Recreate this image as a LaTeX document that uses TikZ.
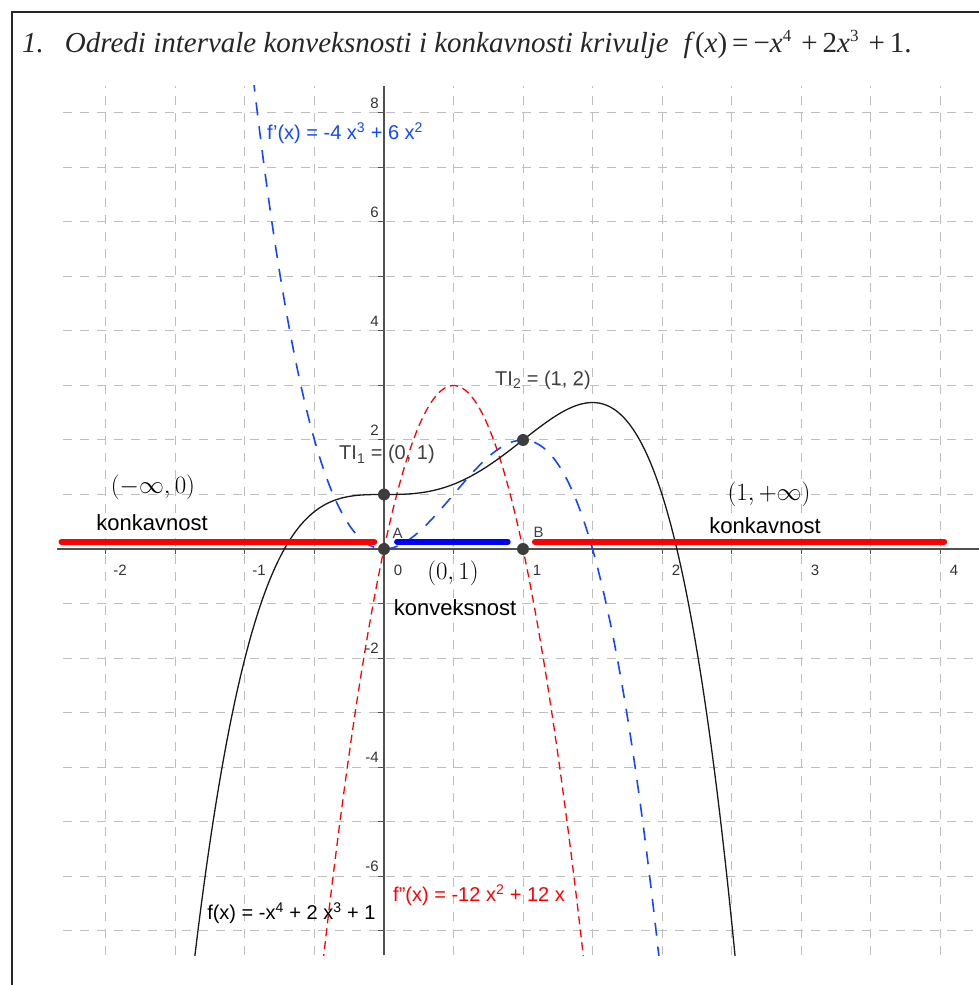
\documentclass[tikz,border=0pt]{standalone}
\usepackage{fontspec}
\setmainfont{Liberation Serif}
\setsansfont{Liberation Sans}
\usetikzlibrary{positioning}

\definecolor{gridgray}{RGB}{190,190,190}
\definecolor{axisgray}{RGB}{80,80,80}
\definecolor{dotgray}{RGB}{60,60,60}
\definecolor{ggblue}{RGB}{20,70,255}
\definecolor{ggred}{RGB}{255,0,0}

\newcommand{\titlegap}{\hspace{5pt}}
\newcommand{\titlegapwide}{\hspace{10pt}}
\newcommand{\titlepow}[1]{\raisebox{11pt}{\fontsize{17}{17}\selectfont #1}}

\begin{document}
\begin{tikzpicture}[x=139pt, y=54.5pt,
    gridline/.style={gridgray, line width=1pt, dash pattern=on 9pt off 8pt},
    axisline/.style={axisgray, line width=1.5pt},
    fcurve/.style={black!90, line width=1.3pt},
    dfcurve/.style={ggblue, line width=1.6pt, dash pattern=on 13pt off 11pt},
    ddfcurve/.style={ggred, line width=1.3pt, dash pattern=on 8pt off 5pt},
    band/.style={line width=6pt, line cap=round},
    dotpoint/.style={circle, fill=dotgray, inner sep=0pt, minimum size=12pt},
    ticklabel/.style={font=\sffamily\fontsize{15}{17}\selectfont, text=black!80, inner sep=0pt},
    ptlabel/.style={font=\sffamily\fontsize{15}{18}\selectfont, text=black!75, inner sep=0pt},
    tilabel/.style={font=\sffamily\fontsize{20}{24}\selectfont, text=black!75, inner sep=0pt},
    fnlabel/.style={font=\sffamily\fontsize{20}{24}\selectfont, inner sep=0pt, anchor=west},
    intlabel/.style={font=\fontsize{25}{30}\selectfont, inner sep=0pt},
    wordlabel/.style={font=\sffamily\fontsize{22}{26}\selectfont, inner sep=0pt}]
  \useasboundingbox (-384pt,-436pt) rectangle (594pt,549pt);

  % frame and title
  \draw[line width=2pt, black!85] (-372pt,-440pt) -- (-372pt,537pt) -- (600pt,537pt);
  \node[font=\fontsize{29}{33}\selectfont, text=black!85, inner sep=0pt, anchor=base west] (title) at (-362pt,496pt)
    {\textit{1.}\hspace{21pt}\textit{Odredi intervale konveksnosti i konkavnosti krivulje}\hspace{15pt}\textit{f}(\textit{x})\titlegap=\titlegap−\textit{x}\titlepow{4}\titlegapwide+\titlegap2\textit{x}\titlepow{3}\titlegapwide+\titlegap1.};

  % grid
  \foreach \x in {-2,-1.5,...,4}
    \draw[gridline] (\x,-7.45) -- (\x,8.5);
  \foreach \y in {-7,...,8}
    \draw[gridline] (-2.31,\y) -- (4.3,\y);

  % axes
  \draw[axisline] (-2.35,0) -- (4.3,0);
  \draw[axisline] (0,-7.45) -- (0,8.5);
  \foreach \x in {-2,-1.5,...,4}
    \draw[axisline, line width=1pt] (\x,0) -- ++(0,-5pt);
  \foreach \y in {-7,...,8}
    \draw[axisline, line width=1pt] (0,\y) -- ++(-6pt,0);
  \foreach \x [count=\i] in {-2,-1,0,1,2,3,4}
    \node[ticklabel, xshift=14pt, yshift=-21pt] (xlab\i) at (\x,0) {\x};
  \foreach \y [count=\i] in {8,6,4,2,-2,-4,-6}
    \node[ticklabel, anchor=east, xshift=-5pt, yshift=9.5pt] (ylab\i) at (0,\y) {\y};

  % curves
  \begin{scope}
    \clip (-2.4,-7.45) rectangle (4.3,8.5);
    \draw[ddfcurve] plot[domain=-0.47:1.47, samples=80, smooth] (\x,{-12*(\x)*(\x)+12*(\x)});
    \draw[dfcurve] plot[domain=-0.96:2.02, samples=100, smooth] (\x,{-4*(\x)*(\x)*(\x)+6*(\x)*(\x)});
    \draw[fcurve] plot[domain=-1.4:2.56, samples=120, smooth] (\x,{-(\x)*(\x)*(\x)*(\x)+2*(\x)*(\x)*(\x)+1});
  \end{scope}

  % intervals
  \draw[band, ggred] (-2.32,0.134) -- (-0.07,0.134);
  \draw[band, blue] (0.094,0.134) -- (0.89,0.134);
  \draw[band, ggred] (1.086,0.134) -- (4.03,0.134);

  % points
  \node[dotpoint] (TI1) at (0,1) {};
  \node[dotpoint] (TI2) at (1,2) {};
  \node[dotpoint] (A) at (0,0) {};
  \node[dotpoint] (B) at (1,0) {};
  \node[ptlabel, above right=6pt and 4pt of A] (Alab) {A};
  \node[ptlabel, above right=7pt and 6pt of B] (Blab) {B};
  \node[tilabel, above=24pt of TI1, xshift=3pt] (TI1lab) {TI\textsubscript{1} = (0, 1)};
  \node[tilabel, above=44pt of TI2, xshift=20pt] (TI2lab) {TI\textsubscript{2} = (1, 2)};

  % interval texts
  \node[intlabel] (leftint) at (-1.662,1.138) {$(-\infty,0)$};
  \node[wordlabel] (leftword) at (-1.669,0.477) {konkavnost};
  \node[intlabel] (midint) at (0.496,-0.44) {$(0,1)$};
  \node[wordlabel] (midword) at (0.511,-1.083) {konveksnost};
  \node[intlabel] (rightint) at (2.77,1.009) {$(1,+\infty)$};
  \node[wordlabel] (rightword) at (2.741,0.422) {konkavnost};

  % function labels
  \node[fnlabel, text=ggblue] (dflab) at (-0.842,7.633) {f'(x) = -4 x\textsuperscript{3} + 6 x\textsuperscript{2}};
  \node[fnlabel, text=black] (flab) at (-1.273,-6.679) {f(x) = -x\textsuperscript{4} + 2 x\textsuperscript{3} + 1};
  \node[fnlabel, text=ggred] (ddflab) at (0.065,-6.349) {f''(x) = -12 x\textsuperscript{2} + 12 x};
\end{tikzpicture}
\end{document}
